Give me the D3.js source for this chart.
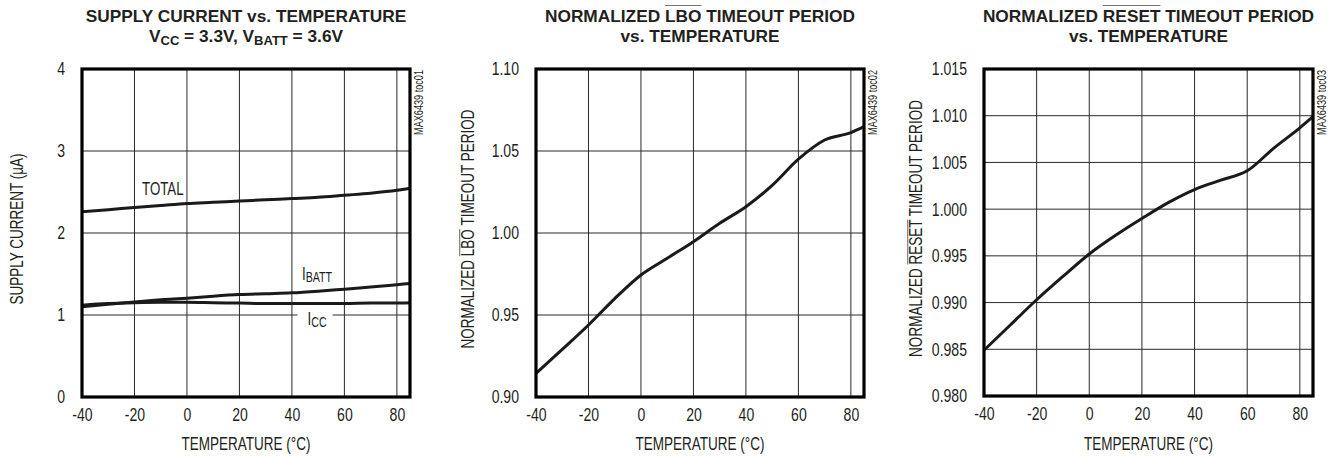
<!DOCTYPE html>
<html><head><meta charset="utf-8">
<script src="https://cdn.jsdelivr.net/npm/d3@7"></script>
<style>html,body{margin:0;padding:0;background:#fff}svg{display:block}</style>
</head><body>
<svg id="c" width="1332" height="457"></svg>
<script>
// ---------- data ----------
const temperatureC = [-40,-30,-20,-10,0,10,20,30,40,50,60,70,80,85];
const totalCurrent = [2.26,2.285,2.31,2.335,2.36,2.375,2.39,2.405,2.42,2.435,2.46,2.485,2.52,2.545];
const battCurrent  = [1.10,1.13,1.16,1.185,1.205,1.23,1.25,1.26,1.27,1.29,1.315,1.34,1.37,1.385];
const vccCurrent   = [1.12,1.14,1.15,1.155,1.155,1.15,1.145,1.14,1.14,1.14,1.14,1.145,1.145,1.15];
const lboPeriod    = [0.9144,0.929,0.9439,0.960,0.9744,0.9846,0.9947,1.0059,1.016,1.029,1.045,1.0567,1.0612,1.0648];
const resetPeriod  = [0.9849,0.9876,0.9903,0.9928,0.9952,0.9972,0.9990,1.0007,1.0021,1.0031,1.0041,1.0065,1.0087,1.0099];

const tempTicks  = [-40,-20,0,20,40,60,80];
const tempLabels = ["-40","-20","0","20","40","60","80"];
const currentTicks  = [0,1,2,3,4];
const currentLabels = ["0","1","2","3","4"];
const lboTicks  = [0.90,0.95,1.00,1.05,1.10];
const lboLabels = ["0.90","0.95","1.00","1.05","1.10"];
const resetTicks  = [0.980,0.985,0.990,0.995,1.000,1.005,1.010,1.015];
const resetLabels = ["0.980","0.985","0.990","0.995","1.000","1.005","1.010","1.015"];

// ---------- style ----------
const ink = "#231f20";
const fontR = "'Liberation Sans',Arial,sans-serif";
const fontB = "'Liberation Sans',Arial,sans-serif";
const squeeze = 0.76;
const tickSize = 18.5, titleSize = 17.8;

const svg = d3.select("#c");

function narrow(sel){
  sel.each(function(){
    const L = this.getComputedTextLength();
    d3.select(this).attr("textLength", L*squeeze).attr("lengthAdjust","spacingAndGlyphs");
  });
  return sel;
}

function overline(textSel, from, to, offset, color){
  const node = textSel.node();
  const s = node.getStartPositionOfChar(from);
  const e = node.getEndPositionOfChar(to);
  d3.select(node.parentNode).append("line")
    .attr("x1", s.x).attr("x2", e.x).attr("y1", s.y - offset).attr("y2", s.y - offset)
    .attr("stroke", color).attr("stroke-width", 1);
}

function drawPanel(cfg){
  const g = svg.append("g");
  const x = d3.scaleLinear().domain([-40,85]).range([cfg.left,cfg.right]);
  const y = d3.scaleLinear().domain([cfg.yTicks[0], cfg.yTicks[cfg.yTicks.length-1]]).range([cfg.bottom,cfg.top]);

  // grid
  g.append("g").selectAll("line").data(tempTicks.slice(1)).join("line")
    .attr("x1",d=>x(d)).attr("x2",d=>x(d)).attr("y1",cfg.top).attr("y2",cfg.bottom)
    .attr("stroke","#2a2a2a").attr("stroke-width",1);
  g.append("g").selectAll("line").data(cfg.yTicks.slice(1,-1)).join("line")
    .attr("x1",cfg.left).attr("x2",cfg.right).attr("y1",d=>y(d)).attr("y2",d=>y(d))
    .attr("stroke","#2a2a2a").attr("stroke-width",1);

  // axes (labels)
  const ya = d3.axisLeft(y).tickValues(cfg.yTicks).tickFormat((d,i)=>cfg.yLabels[i]).tickSize(0).tickPadding(17);
  const yg = g.append("g").attr("transform",`translate(${cfg.left},0)`).call(ya);
  yg.select(".domain").remove();
  narrow(yg.selectAll("text").attr("font-size",tickSize).attr("font-family",fontR).attr("fill",ink));

  const xa = d3.axisBottom(x).tickValues(tempTicks).tickFormat((d,i)=>tempLabels[i]).tickSize(0).tickPadding(11);
  const xg = g.append("g").attr("transform",`translate(0,${cfg.bottom})`).call(xa);
  xg.select(".domain").remove();
  narrow(xg.selectAll("text").attr("font-size",tickSize).attr("font-family",fontR).attr("fill",ink));

  // x title
  narrow(g.append("text").attr("x",(cfg.left+cfg.right)/2).attr("y",450)
    .attr("text-anchor","middle").attr("font-size",titleSize).attr("font-family",fontR).attr("fill",ink)
    .text("TEMPERATURE (°C)"));

  // y title
  const yt = g.append("g").attr("transform",`translate(${cfg.left-cfg.yTitleOffset},${(cfg.top+cfg.bottom)/2-4}) rotate(-90)`);
  const ytt = yt.append("text").attr("text-anchor","middle").attr("dy","0.35em")
    .attr("font-size",titleSize).attr("font-family",fontR).attr("fill",ink);
  ytt.text(cfg.yTitle);
  narrow(ytt);
  if(cfg.yOver) overline(ytt, cfg.yOver[0], cfg.yOver[1], 14.5, "#666");

  // side code
  narrow(g.append("text").attr("transform",`translate(${cfg.right+13},${cfg.top+1}) rotate(-90)`)
    .attr("text-anchor","end").attr("font-size",12).attr("font-family",fontR).attr("fill",ink)
    .text(cfg.code));

  // title
  const cx = (cfg.left+cfg.right)/2;
  cfg.title(g, cx);

  // curves
  const line = d3.line().x((d,i)=>x(temperatureC[i])).y(d=>y(d)).curve(d3.curveMonotoneX);
  const cg = g.append("g");
  cfg.series.forEach(s=>{
    cg.append("path").attr("d",line(s)).attr("fill","none").attr("stroke","#1a1a1a")
      .attr("stroke-width",3).attr("stroke-linejoin","round").attr("stroke-linecap","butt");
  });
  if(cfg.labels) cfg.labels(g, x, y);

  // frame
  g.append("rect").attr("x",cfg.left).attr("y",cfg.top).attr("width",cfg.right-cfg.left).attr("height",cfg.bottom-cfg.top)
    .attr("fill","none").attr("stroke","#000").attr("stroke-width",3.2);
}

function titleText(g, cx, yPos){
  return g.append("text").attr("x",cx).attr("y",yPos).attr("text-anchor","middle")
    .attr("font-size",17.3).attr("font-weight","bold").attr("font-family",fontB).attr("fill",ink);
}

// Panel 1
drawPanel({
  left:82,right:410,top:69,bottom:397, yTicks:currentTicks, yLabels:currentLabels,
  yTitle:"SUPPLY CURRENT (µA)", yTitleOffset:65, code:"MAX6439 toc01",
  series:[totalCurrent,battCurrent,vccCurrent],
  title:(g,cx)=>{
    titleText(g,cx,22).text("SUPPLY CURRENT vs. TEMPERATURE");
    const t = titleText(g,cx,42);
    t.append("tspan").text("V");
    t.append("tspan").attr("font-size",13).attr("dy",3).text("CC");
    t.append("tspan").attr("dy",-3).text(" = 3.3V, V");
    t.append("tspan").attr("font-size",13).attr("dy",3).text("BATT");
    t.append("tspan").attr("dy",-3).text(" = 3.6V");
  },
  labels:(g,x,y)=>{
    const lab = (tx,ty,main,sub)=>{
      const t = g.append("text").attr("x",tx).attr("y",ty).attr("font-size",17.5).attr("font-family",fontR).attr("fill",ink);
      t.append("tspan").text(main);
      if(sub) t.append("tspan").attr("font-size",14).attr("dy",2).text(sub);
      return narrow(t);
    };
    lab(142,195,"TOTAL");
    lab(302,280,"I","BATT");
    const icc = lab(307.5,325,"I","CC");
    const bb = icc.node().getBBox();
    g.insert("rect", function(){return icc.node();})
      .attr("x",bb.x-10).attr("y",bb.y).attr("width",bb.width+16).attr("height",bb.height).attr("fill","#fff");
  }
});

// Panel 2
drawPanel({
  left:536,right:864,top:69,bottom:397, yTicks:lboTicks, yLabels:lboLabels,
  yTitle:"NORMALIZED LBO TIMEOUT PERIOD", yOver:[11,13], yTitleOffset:68, code:"MAX6439 toc02",
  series:[lboPeriod],
  title:(g,cx)=>{
    const t = titleText(g,cx,22).text("NORMALIZED LBO TIMEOUT PERIOD");
    overline(t,11,13,16.5,"#777");
    titleText(g,cx,42).text("vs. TEMPERATURE");
  }
});

// Panel 3
drawPanel({
  left:984,right:1313,top:69,bottom:396, yTicks:resetTicks, yLabels:resetLabels,
  yTitle:"NORMALIZED RESET TIMEOUT PERIOD", yOver:[11,15], yTitleOffset:68, code:"MAX6439 toc03",
  series:[resetPeriod],
  title:(g,cx)=>{
    const t = titleText(g,cx,22).text("NORMALIZED RESET TIMEOUT PERIOD");
    overline(t,11,15,16.5,"#777");
    titleText(g,cx,42).text("vs. TEMPERATURE");
  }
});
</script>
</body></html>
